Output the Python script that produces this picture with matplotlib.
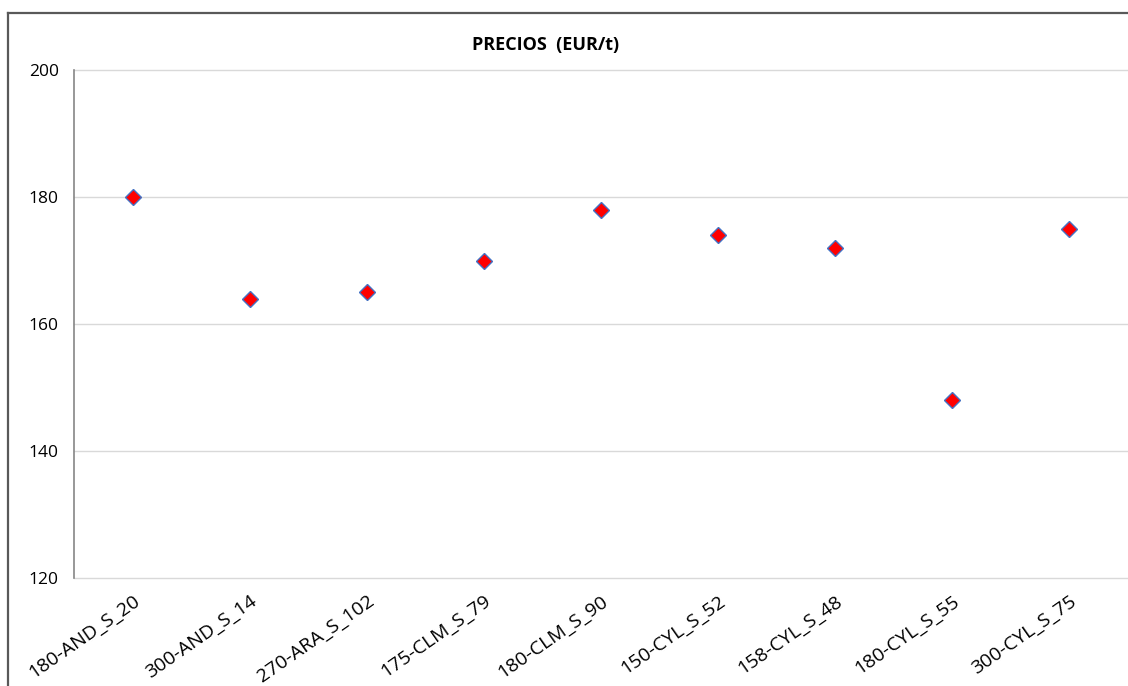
import matplotlib.pyplot as plt
from matplotlib.lines import Line2D

# Data
categories = ["180-AND_S_20", "300-AND_S_14", "270-ARA_S_102", "175-CLM_S_79",
              "180-CLM_S_90", "150-CYL_S_52", "158-CYL_S_48", "180-CYL_S_55",
              "300-CYL_S_75"]
precios = [180, 164, 165, 170, 178, 174, 172, 148, 175]
y_ticks = [120, 140, 160, 180, 200]

plt.rcParams['font.family'] = ['Open Sans', 'DejaVu Sans']

fig = plt.figure(figsize=(11.28, 6.86), dpi=100)
ax = fig.add_axes([74 / 1128, 1 - 578 / 686, 1 - 74 / 1128, (578 - 70) / 686])

x = list(range(len(categories)))
ax.plot(x, precios, linestyle='none', marker='D', markersize=8.5,
        markerfacecolor='#ff0000', markeredgecolor='#4472c4', markeredgewidth=1,
        zorder=3)

ax.set_xlim(-0.5, len(categories) - 0.5)
ax.set_ylim(120, 200)
ax.set_yticks(y_ticks)
for v in y_ticks:
    ax.axhline(v, color='#d9d9d9', linewidth=1, zorder=0, clip_on=False)
ax.tick_params(axis='y', length=0, pad=11, labelsize=12.5, colors='#000000')
ax.tick_params(axis='x', length=0, pad=10)
ax.set_xticks(x)
ax.set_xticklabels(categories, rotation=35, ha='right', rotation_mode='anchor',
                   fontsize=14)

for side in ['top', 'right', 'bottom']:
    ax.spines[side].set_visible(False)
ax.spines['left'].set_color('#868686')
ax.spines['left'].set_linewidth(1.2)

fig.text(546 / 1128, 1 - 45 / 686, "PRECIOS  (EUR/t)", ha='center', va='center',
         fontsize=13, fontweight='bold')

# Outer chart border (top and left visible)
fig.add_artist(Line2D([7.5 / 1128, 7.5 / 1128], [0, 1 - 13 / 686],
                      transform=fig.transFigure, color='#595959', linewidth=1.6))
fig.add_artist(Line2D([7.5 / 1128, 1], [1 - 13 / 686, 1 - 13 / 686],
                      transform=fig.transFigure, color='#595959', linewidth=1.6))

fig.savefig('out.png', dpi=100)
